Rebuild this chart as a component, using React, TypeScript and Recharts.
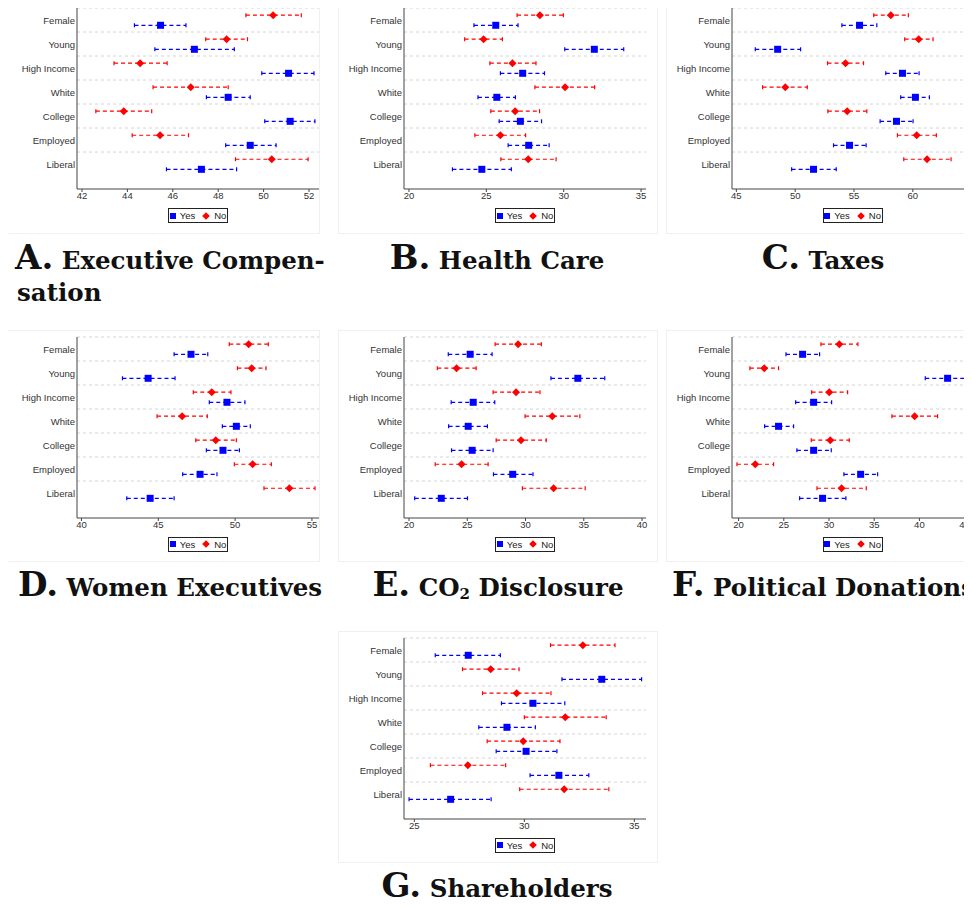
import React from 'react';
import { ScatterChart, Scatter, XAxis, YAxis, ErrorBar, ReferenceLine } from 'recharts';

const groups = ['Female', 'Young', 'High Income', 'White', 'College', 'Employed', 'Liberal'];

// each row: [lower CI, estimate, upper CI], in group order
const execNo = [[49.22, 50.42, 51.66], [47.45, 48.37, 49.29], [43.41, 44.56, 45.75], [45.13, 46.79, 48.44], [42.61, 43.84, 45.07], [44.21, 45.44, 46.69], [48.76, 50.36, 51.96]];
const execYes = [[44.31, 45.46, 46.58], [45.21, 46.95, 48.71], [49.92, 51.1, 52.22], [47.48, 48.44, 49.41], [50.05, 51.17, 52.26], [48.33, 49.41, 50.55], [45.72, 47.26, 48.81]];

const healthNo = [[26.99, 28.46, 29.98], [23.6, 24.82, 26.04], [25.23, 26.69, 28.21], [28.14, 30.09, 32.0], [25.29, 26.86, 28.44], [24.26, 25.91, 27.54], [25.94, 27.71, 29.51]];
const healthYes = [[24.2, 25.61, 27.05], [30.07, 31.98, 33.88], [25.91, 27.35, 28.76], [24.46, 25.68, 26.88], [25.83, 27.2, 28.57], [26.41, 27.74, 29.06], [22.81, 24.71, 26.62]];

const taxNo = [[56.68, 58.13, 59.62], [59.31, 60.5, 61.72], [52.75, 54.28, 55.81], [47.23, 49.16, 51.03], [52.78, 54.42, 56.09], [58.69, 60.33, 62.0], [59.23, 61.21, 63.25]];
const taxYes = [[53.97, 55.47, 56.94], [46.61, 48.51, 50.46], [57.7, 59.12, 60.53], [58.97, 60.22, 61.41], [57.22, 58.61, 60.02], [53.26, 54.62, 56.03], [49.7, 51.56, 53.49]];

const womenNo = [[49.62, 50.88, 52.16], [50.15, 51.08, 52.01], [47.28, 48.48, 49.73], [44.92, 46.55, 48.19], [47.44, 48.74, 50.08], [49.95, 51.14, 52.36], [51.88, 53.53, 55.2]];
const womenYes = [[46.03, 47.13, 48.22], [42.67, 44.34, 46.09], [48.32, 49.47, 50.64], [49.17, 50.08, 50.99], [48.13, 49.21, 50.28], [46.59, 47.72, 48.82], [42.95, 44.47, 46.03]];

const co2No = [[27.39, 29.36, 31.36], [22.43, 24.08, 25.76], [27.22, 29.19, 31.24], [29.96, 32.3, 34.66], [27.48, 29.61, 31.78], [22.25, 24.51, 26.79], [29.73, 32.41, 35.12]];
const co2Yes = [[23.37, 25.25, 27.13], [32.18, 34.49, 36.8], [23.62, 25.51, 27.36], [23.4, 25.08, 26.73], [23.65, 25.42, 27.22], [27.25, 28.9, 30.64], [20.49, 22.77, 25.02]];

const donNo = [[29.11, 31.14, 33.2], [21.25, 22.84, 24.42], [28.08, 30.03, 32.06], [36.96, 39.47, 42.01], [28.04, 30.14, 32.24], [19.82, 21.84, 23.87], [28.67, 31.39, 34.12]];
const donYes = [[25.24, 27.08, 28.96], [40.65, 43.12, 45.63], [26.31, 28.3, 30.29], [22.88, 24.42, 26.08], [26.45, 28.3, 30.25], [31.65, 33.5, 35.38], [26.75, 29.29, 31.87]];

const shareNo = [[31.19, 32.66, 34.12], [27.19, 28.47, 29.76], [28.1, 29.65, 31.21], [30.0, 31.86, 33.72], [28.31, 29.95, 31.62], [25.73, 27.43, 29.15], [29.79, 31.81, 33.84]];
const shareYes = [[25.95, 27.45, 28.91], [31.71, 33.52, 35.33], [28.96, 30.39, 31.84], [27.93, 29.21, 30.5], [28.72, 30.08, 31.48], [30.26, 31.57, 32.93], [24.76, 26.65, 28.49]];

const RED = '#ff0000';
const BLUE = '#0000ff';
const tickFont = { fontFamily: 'Liberation Sans, Arial, sans-serif', fontSize: 9.5, fill: '#333' };

const toRows = (ci: number[][], offset: number) =>
  ci.map(([lo, est, hi], i) => ({ group: groups[i], pos: i + offset, est, err: [est - lo, hi - est] }));

const Square = (p: any) => <rect x={p.cx - 3.5} y={p.cy - 3.5} width={7} height={7} fill={BLUE} />;
const Diamond = (p: any) => (
  <polygon
    points={`${p.cx},${p.cy - 4} ${p.cx + 4},${p.cy} ${p.cx},${p.cy + 4} ${p.cx - 4},${p.cy}`}
    fill={RED}
  />
);

// y labels drawn on one line (no wrapping of "High Income")
const GroupTick = (p: any) => (
  <text x={p.x} y={p.y} dy={3.5} textAnchor="end" {...tickFont}>
    {groups[Math.floor(p.payload.value)]}
  </text>
);

const bandLines = [0, 1, 2, 3, 4, 5, 6];
const labelTicks = [0.5, 1.5, 2.5, 3.5, 4.5, 5.5, 6.5];

function Panel({ left, top, no, yes, domain, ticks }: any) {
  return (
    <div style={{ position: 'absolute', left: left - 77, top: top - 8 }}>
      <ScatterChart width={330} height={215} margin={{ top: 8, right: 11, bottom: 6, left: 7 }}>
        <XAxis
          type="number"
          dataKey="est"
          domain={domain}
          ticks={ticks}
          allowDataOverflow
          height={20}
          tickSize={3}
          tickMargin={0}
          stroke="#444"
          tick={tickFont}
        />
        <YAxis
          type="number"
          dataKey="pos"
          domain={[0, 7.54]}
          reversed
          allowDataOverflow
          ticks={labelTicks}
          width={70}
          tickLine={false}
          tickSize={0}
          tickMargin={2}
          stroke="#444"
          tick={<GroupTick />}
        />
        {bandLines.map((v) => (
          <ReferenceLine key={v} y={v} stroke="#d4d4d4" strokeDasharray="3 3" />
        ))}
        <Scatter data={toRows(no, 0.3)} fill={RED} shape={Diamond} isAnimationActive={false}>
          <ErrorBar dataKey="err" direction="x" width={2} stroke={RED} strokeWidth={1.2} strokeDasharray="4 3" />
        </Scatter>
        <Scatter data={toRows(yes, 0.72)} fill={BLUE} shape={Square} isAnimationActive={false}>
          <ErrorBar dataKey="err" direction="x" width={2} stroke={BLUE} strokeWidth={1.2} strokeDasharray="4 3" />
        </Scatter>
      </ScatterChart>
      <div
        style={{
          position: 'absolute',
          left: 77 + 121 - 30,
          top: 8 + 181 + 19,
          width: 58,
          height: 13,
          border: '1px solid #222',
          display: 'flex',
          alignItems: 'center',
          justifyContent: 'center',
          gap: 4,
          ...tickFont,
          color: '#222',
        }}
      >
        <span style={{ width: 6, height: 6, background: BLUE, display: 'inline-block' }} />
        <span>Yes</span>
        <svg width={8} height={8} style={{ marginLeft: 3 }}>
          <polygon points="4,0.2 7.8,4 4,7.8 0.2,4" fill={RED} />
        </svg>
        <span>No</span>
      </div>
    </div>
  );
}

const Frame = ({ left, top }: any) => (
  <div style={{ position: 'absolute', left, top, width: 318, height: 230, border: '1px solid #f0f0f0' }} />
);

const titleStyle: React.CSSProperties = {
  position: 'absolute',
  fontFamily: 'DejaVu Serif, serif',
  fontSize: 34,
  lineHeight: '40px',
  whiteSpace: 'nowrap',
  color: '#111',
};

function Title({ center, left, top, letter, children }: any) {
  const pos = left !== undefined ? { left } : { left: center - 300, width: 600, textAlign: 'center' as const };
  return (
    <div style={{ ...titleStyle, ...pos, top }}>
      <span style={{ fontWeight: 'bold', fontSize: 34 }}>{letter}</span>
      <span style={{ fontSize: 24.5, fontWeight: 'bold' }}> {children}</span>
    </div>
  );
}

export default function App() {
  return (
    <div style={{ position: 'relative', margin: -8, width: 972, height: 907, overflow: 'hidden', background: '#fff' }}>
      <Frame left={0} top={2} />
      <Frame left={338} top={2} />
      <Frame left={666} top={2} />
      <Frame left={0} top={330} />
      <Frame left={338} top={330} />
      <Frame left={666} top={330} />
      <Frame left={338} top={631} />

      <Panel left={77} top={8} no={execNo} yes={execYes} domain={[41.78, 52.44]} ticks={[42, 44, 46, 48, 50, 52]} />
      <Panel left={404} top={8} no={healthNo} yes={healthYes} domain={[19.68, 35.32]} ticks={[20, 25, 30, 35]} />
      <Panel left={731.7} top={8} no={taxNo} yes={taxYes} domain={[44.63, 65.2]} ticks={[45, 50, 55, 60, 65]} />
      <Panel left={77} top={336.7} no={womenNo} yes={womenYes} domain={[39.71, 55.46]} ticks={[40, 45, 50, 55]} />
      <Panel left={404} top={336.7} no={co2No} yes={co2Yes} domain={[19.57, 40.34]} ticks={[20, 25, 30, 35, 40]} />
      <Panel left={731.7} top={336.7} no={donNo} yes={donYes} domain={[19.27, 46.04]} ticks={[20, 25, 30, 35, 40, 45]} />
      <Panel left={404} top={637.7} no={shareNo} yes={shareYes} domain={[24.53, 35.53]} ticks={[25, 30, 35]} />

      <Title left={15} top={237} letter="A.">Executive Compen-</Title>
      <div style={{ ...titleStyle, left: 17, top: 273, fontSize: 24.5, fontWeight: 'bold' }}>sation</div>
      <Title center={497} top={237} letter="B.">Health Care</Title>
      <Title center={823} top={237} letter="C.">Taxes</Title>
      <Title center={170} top={564} letter="D.">Women Executives</Title>
      <Title center={498} top={564} letter="E.">
        CO<sub style={{ fontSize: 15, verticalAlign: '-3px' }}>2</sub> Disclosure
      </Title>
      <Title left={672} top={564} letter="F.">Political Donations</Title>
      <Title center={497} top={865} letter="G.">Shareholders</Title>
    </div>
  );
}
